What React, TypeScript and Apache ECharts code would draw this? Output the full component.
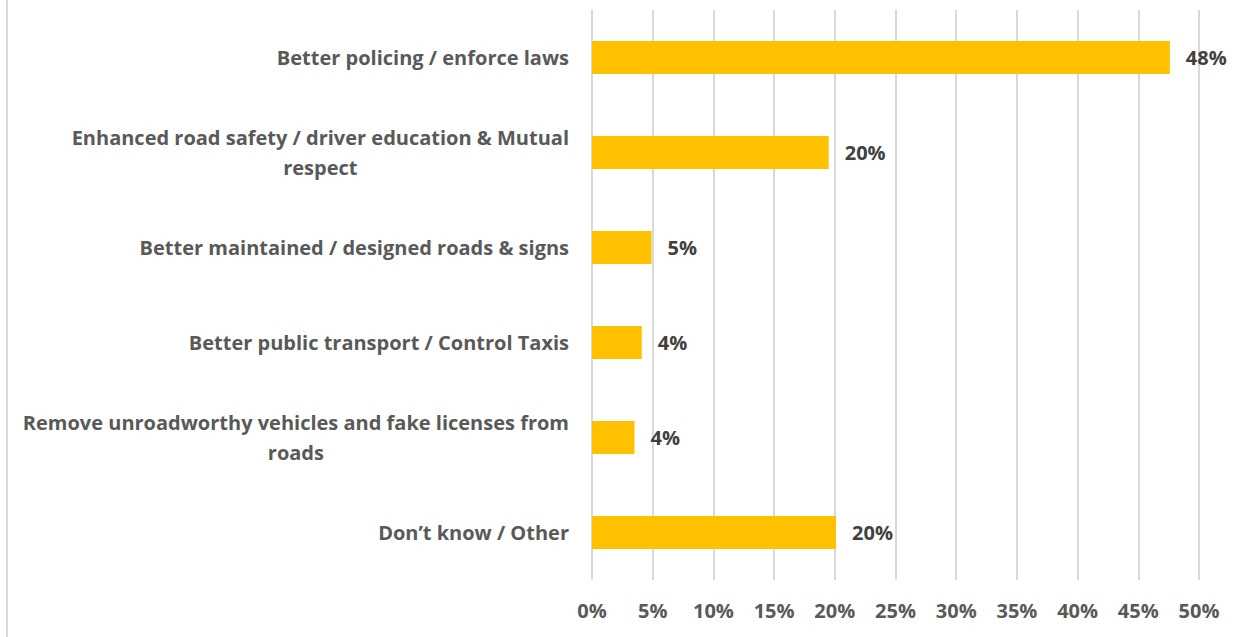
import React, { useEffect, useRef } from "react";
import * as echarts from "echarts";

const categories: string[] = [
  "Better policing / enforce laws",
  "Enhanced road safety / driver education & Mutual\nrespect",
  "Better maintained / designed roads & signs",
  "Better public transport / Control Taxis",
  "Remove unroadworthy vehicles and fake licenses from\nroads",
  "Don\u2019t know / Other",
];
const values: number[] = [47.6, 19.5, 4.9, 4.1, 3.5, 20.1];
const valueLabels: string[] = ["48%", "20%", "5%", "4%", "4%", "20%"];
const xTicks: number[] = [0, 5, 10, 15, 20, 25, 30, 35, 40, 45, 50];

const FONT = "Open Sans";

export default function App() {
  const ref = useRef<HTMLDivElement>(null);
  useEffect(() => {
    document.body.style.margin = "0";
    if (!ref.current) return;
    const chart = echarts.init(ref.current, null, { renderer: "svg" });
    chart.setOption({
      animation: false,
      backgroundColor: "#ffffff",
      grid: { left: 592, right: 45, top: 10, bottom: 57 },
      graphic: [
        {
          type: "line",
          shape: { x1: 7, y1: 0, x2: 7, y2: 637 },
          style: { stroke: "#D9D9D9", lineWidth: 2 },
        },
      ],
      xAxis: {
        type: "value",
        min: xTicks[0],
        max: xTicks[xTicks.length - 1],
        interval: 5,
        axisLine: { show: false },
        axisTick: { show: false },
        splitLine: { show: true, lineStyle: { color: "#D9D9D9", width: 2 } },
        axisLabel: {
          formatter: (v: number) => `${v}%`,
          color: "#595959",
          fontFamily: FONT,
          fontWeight: "bold",
          fontSize: 20,
          margin: 20,
        },
      },
      yAxis: {
        type: "category",
        inverse: true,
        data: categories,
        axisLine: { show: false },
        axisTick: { show: false },
        axisLabel: {
          margin: 23,
          formatter: (v: string) =>
            v
              .split("\n")
              .map((l) => `{c|${l}}`)
              .join("\n"),
          rich: {
            c: {
              align: "center",
              color: "#595959",
              fontFamily: FONT,
              fontWeight: "bold",
              fontSize: 20,
              lineHeight: 30,
            },
          },
        },
      },
      series: [
        {
          type: "bar",
          data: values,
          barWidth: 33,
          itemStyle: { color: "#FFC000" },
          label: {
            show: true,
            position: "right",
            distance: 16,
            formatter: (p: any) => valueLabels[p.dataIndex],
            color: "#404040",
            fontFamily: FONT,
            fontWeight: "bold",
            fontSize: 20,
          },
        },
      ],
    });
    return () => chart.dispose();
  }, []);
  return <div ref={ref} style={{ width: 1244, height: 637 }} />;
}
